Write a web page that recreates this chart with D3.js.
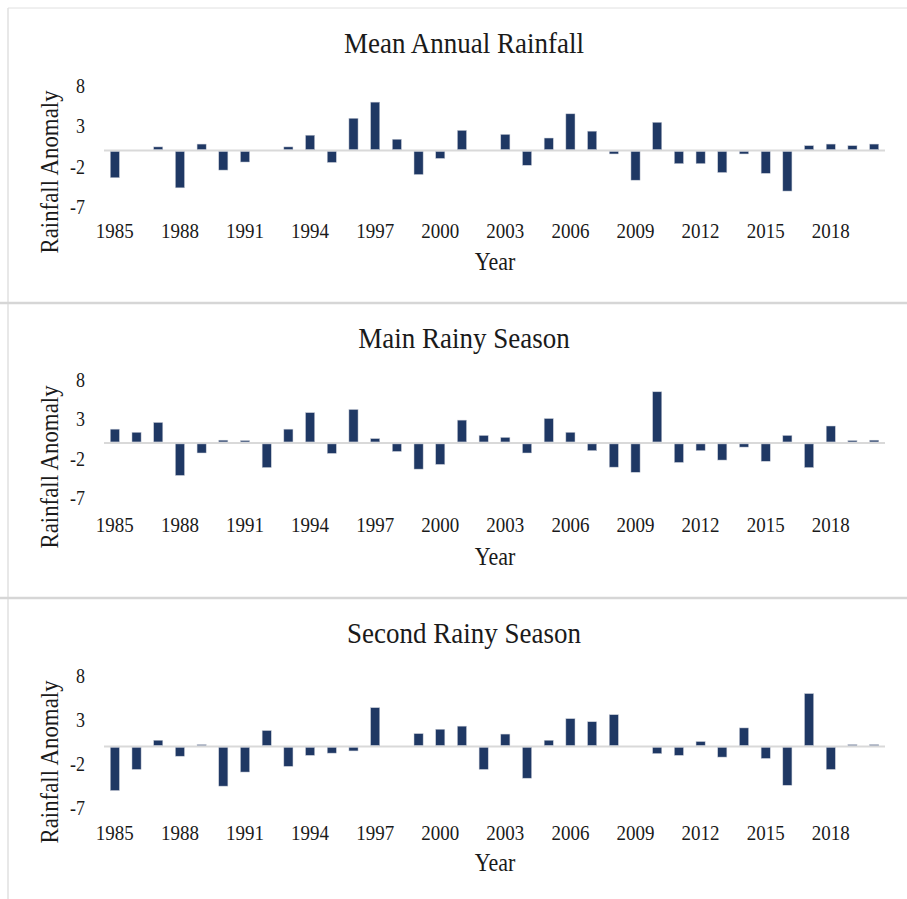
<!DOCTYPE html>
<html>
<head>
<meta charset="utf-8">
<script src="https://cdn.jsdelivr.net/npm/d3@7"></script>
<style>
  html, body { margin: 0; padding: 0; background: #fff; }
  text { font-family: "Liberation Serif", "Times New Roman", serif; fill: #1a1a1a; }
</style>
</head>
<body>
<svg id="chart" width="907" height="899"></svg>
<script>
// categories
const years = [1985, 1986, 1987, 1988, 1989, 1990, 1991, 1992, 1993, 1994, 1995, 1996,
  1997, 1998, 1999, 2000, 2001, 2002, 2003, 2004, 2005, 2006, 2007, 2008,
  2009, 2010, 2011, 2012, 2013, 2014, 2015, 2016, 2017, 2018, 2019, 2020];

// tick labels
const xTickYears = [1985, 1988, 1991, 1994, 1997, 2000, 2003, 2006, 2009, 2012, 2015, 2018];
const yTicks = [8, 3, -2, -7];

// series values (rainfall anomaly)
const meanAnnual = [-3.25, 0, 0.45, -4.5, 0.8, -2.3, -1.3, 0, 0.45, 1.9, -1.35, 4.0,
  6.0, 1.4, -2.85, -0.85, 2.5, 0, 2.0, -1.7, 1.55, 4.55, 2.4, -0.3,
  -3.55, 3.5, -1.5, -1.5, -2.6, -0.3, -2.7, -4.9, 0.6, 0.8, 0.6, 0.8];
const mainRainy = [1.75, 1.35, 2.6, -4.0, -1.15, 0.35, 0.3, -3.0, 1.75, 3.85, -1.2, 4.25,
  0.55, -0.95, -3.2, -2.6, 2.9, 0.95, 0.7, -1.15, 3.1, 1.35, -0.85, -2.95,
  -3.6, 6.5, -2.35, -0.85, -2.05, -0.4, -2.2, 0.95, -3.0, 2.15, 0.3, 0.35];
const secondRainy = [-4.9, -2.5, 0.7, -1.0, 0.2, -4.4, -2.8, 1.8, -2.15, -0.9, -0.65, -0.4,
  4.4, 0, 1.45, 1.95, 2.3, -2.5, 1.4, -3.5, 0.7, 3.15, 2.8, 3.6,
  0, -0.7, -0.9, 0.55, -1.1, 2.1, -1.25, -4.3, 6.0, -2.5, 0.2, 0.2];

const titles = ["Mean Annual Rainfall", "Main Rainy Season", "Second Rainy Season"];

const svg = d3.select("#chart");

// frame lines
svg.append("line").attr("x1", 8).attr("x2", 907).attr("y1", 8).attr("y2", 8)
  .attr("stroke", "#e0e0e0").attr("stroke-width", 1);
svg.append("line").attr("x1", 8).attr("x2", 8).attr("y1", 8).attr("y2", 899)
  .attr("stroke", "#e0e0e0").attr("stroke-width", 1.5);
[303, 598].forEach(y => {
  svg.append("line").attr("x1", 0).attr("x2", 907).attr("y1", y).attr("y2", y)
    .attr("stroke", "#d6d6d6").attr("stroke-width", 2.5);
});

const x = d3.scaleBand()
  .domain(years)
  .range([104, 885])
  .paddingInner(0.58)
  .paddingOuter(0.29);

// text in the reference looks a bit stretched vertically
const stretch = "scale(1,1.12)";

// panel layout: top of panel, plot top/bottom (y of 8 and -7)
const panels = [
  { values: meanAnnual, top: 8, plotTop: 86, plotBottom: 207, labelY: 231, yearY: 262 },
  { values: mainRainy, top: 303, plotTop: 380, plotBottom: 498, labelY: 525, yearY: 557 },
  { values: secondRainy, top: 598, plotTop: 676, plotBottom: 808, labelY: 833, yearY: 863 }
];

panels.forEach((p, i) => {
  const g = svg.append("g");
  const y = d3.scaleLinear().domain([-7, 8]).range([p.plotBottom, p.plotTop]);

  // title
  g.append("text")
    .attr("transform", `translate(464,${p.top + 34}) ${stretch}`)
    .attr("text-anchor", "middle").attr("dominant-baseline", "central")
    .attr("font-size", 27)
    .text(titles[i]);

  // y tick labels
  g.selectAll(".ytick").data(yTicks).join("text")
    .attr("transform", d => `translate(85,${y(d)}) ${stretch}`)
    .attr("text-anchor", "end").attr("dominant-baseline", "central")
    .attr("font-size", 18)
    .text(d => d);

  // y axis title
  g.append("text")
    .attr("transform", `translate(50,${p.top + 164}) rotate(-90) scale(1.04,1.1)`)
    .attr("text-anchor", "middle").attr("dominant-baseline", "central")
    .attr("font-size", 22)
    .text("Rainfall Anomaly");

  // zero line
  g.append("line")
    .attr("x1", 104).attr("x2", 885)
    .attr("y1", y(0)).attr("y2", y(0))
    .attr("stroke", "#d9d9d9").attr("stroke-width", 2);

  // bars
  g.selectAll(".bar").data(years.map((yr, k) => ({ yr, v: p.values[k] }))).join("rect")
    .attr("x", d => x(d.yr))
    .attr("width", x.bandwidth())
    .attr("y", d => d.v >= 0 ? y(d.v) : y(0) + 1)
    .attr("height", d => Math.max(0, Math.abs(y(d.v) - y(0)) - (d.v >= 0 ? 1 : 0)))
    .attr("fill", "#1f3864")
    .attr("stroke", "#c8ccd6").attr("stroke-width", 0.5);

  // x tick labels
  g.selectAll(".xtick").data(xTickYears).join("text")
    .attr("transform", d => `translate(${x(d) + x.bandwidth() / 2},${p.labelY}) ${stretch}`)
    .attr("text-anchor", "middle").attr("dominant-baseline", "central")
    .attr("font-size", 19)
    .text(d => d);

  // x axis title
  g.append("text")
    .attr("transform", `translate(495,${p.yearY}) ${stretch}`)
    .attr("text-anchor", "middle").attr("dominant-baseline", "central")
    .attr("font-size", 22)
    .text("Year");
});
</script>
</body>
</html>
